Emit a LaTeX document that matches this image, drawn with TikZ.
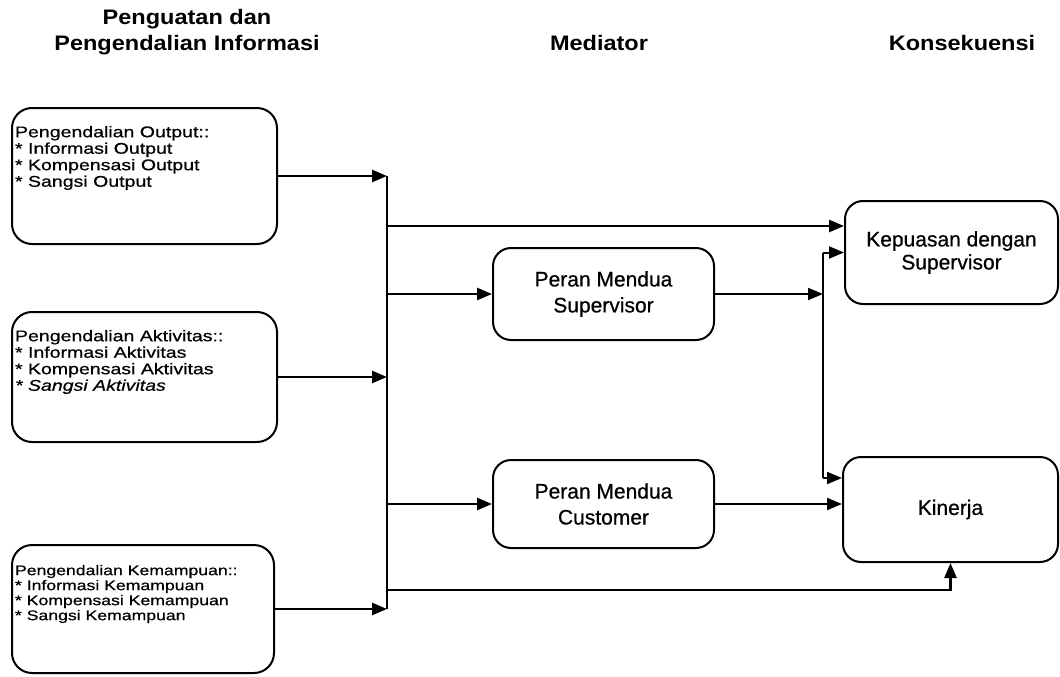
\documentclass[tikz,border=0pt]{standalone}
\usepackage{fontspec}
\setmainfont[FakeBold=0.6]{Liberation Sans}
\newfontfamily\titlefont[FakeStretch=1.12]{Liberation Sans Bold}
\newfontfamily\listfont[FakeStretch=1.26,FakeBold=0.6]{Liberation Sans}
\usetikzlibrary{arrows.meta}

\begin{document}
\begin{tikzpicture}[x=1pt,y=-1pt,
  title/.style={font=\titlefont\fontsize{21}{25}\selectfont, inner sep=0pt, anchor=base},
  lbox/.style={draw, line width=2pt, rounded corners=20pt, inner sep=0pt},
  box/.style={draw, line width=2pt, rounded corners=18pt, inner sep=0pt, align=center},
  arr/.style={-{Triangle[length=15pt,width=12pt]}},
  link/.style={line width=2.6pt},
  thinlink/.style={line width=2pt}]
\useasboundingbox (0,0) rectangle (1060,677);

% column headings
\node[title] (h1a) at (187,25) {Penguatan dan};
\node[title] (h1b) at (187,51) {Pengendalian Informasi};
\node[title] (h2)  at (599,51) {Mediator};
\node[title] (h3)  at (962,51) {Konsekuensi};

% control boxes (left column)
\node[lbox] (O) at (144.5,176) {\parbox[c][136pt][t]{265pt}{\listfont\fontsize{15.5}{16.5}\selectfont\raggedright\leftskip=3pt
  \vspace*{18pt}Pengendalian Output::\\
  {*} Informasi Output\\
  {*} Kompensasi Output\\
  {*} Sangsi Output}};
\node[lbox] (A) at (144.5,377) {\parbox[c][130pt][t]{265pt}{\listfont\fontsize{15.5}{16.5}\selectfont\raggedright\leftskip=3pt
  \vspace*{18pt}Pengendalian Aktivitas::\\
  {*} Informasi Aktivitas\\
  {*} Kompensasi Aktivitas\\
  \textit{* Sangsi Aktivitas}}};
\node[lbox] (M) at (143,609) {\parbox[c][128pt][t]{262pt}{\listfont\fontsize{14}{15}\selectfont\raggedright\leftskip=3pt
  \vspace*{20pt}Pengendalian Kemampuan::\\
  {*} Informasi Kemampuan\\
  {*} Kompensasi Kemampuan\\
  {*} Sangsi Kemampuan}};

% mediator boxes
\node[box, minimum width=221pt, minimum height=92pt, font=\fontsize{21}{26}\selectfont] (PS) at (603.5,294) {Peran Mendua\\Supervisor};
\node[box, minimum width=221pt, minimum height=88pt, font=\fontsize{21}{26}\selectfont] (PC) at (603.5,504) {Peran Mendua\\Customer};

% consequence boxes
\node[box, minimum width=213pt, minimum height=103pt, font=\fontsize{21}{23}\selectfont] (K) at (951.5,252.5) {Kepuasan dengan\\Supervisor};
\node[box, minimum width=215pt, minimum height=105pt, font=\fontsize{21}{25}\selectfont] (N) at (950.5,509.5) {Kinerja};

% junction points
\coordinate (bus) at (387,0);
\coordinate (br1) at (387,226);
\coordinate (br4) at (387,590);
\coordinate (jx)  at (823,0);
\coordinate (jb)  at (823,478);

% collecting bus
\draw[link,arr] (O.east) -- (O.east -| bus);
\draw[link,arr] (A.east) -- (A.east -| bus);
\draw[link,arr] (M.east) -- (M.east -| bus);
\draw[link] (O.east -| bus) -- (M.east -| bus);

% branches from the bus
\draw[link,arr] (br1) -- (br1 -| K.west);
\draw[link,arr] (bus |- PS.west) -- (PS.west);
\draw[link,arr] (bus |- PC.west) -- (PC.west);
\draw[link,arr] (br4) -| (N.south);

% mediator outputs
\draw[thinlink] (jx |- K.west) -- (jb);
\draw[thinlink,arr] (jx |- K.west) -- (K.west);
\draw[thinlink,arr] (jb) -- (jb -| N.west);
\draw[thinlink,arr] (PS.east) -- (PS.east -| jx);
\draw[thinlink,arr] (PC.east) -- (PC.east -| N.west);
\end{tikzpicture}
\end{document}
